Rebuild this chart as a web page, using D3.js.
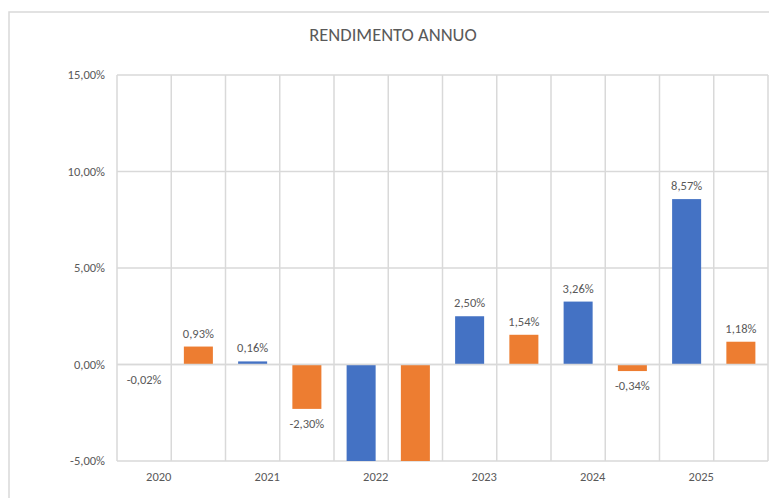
<!DOCTYPE html>
<html>
<head>
<meta charset="utf-8">
<script src="https://cdn.jsdelivr.net/npm/d3@7"></script>
<style>
  body { margin: 0; background: #fff; }
  text { font-family: Carlito, "Liberation Sans", Arial, sans-serif; fill: #595959; }
</style>
</head>
<body>
<div id="chart"></div>
<script>
// data (2022 bars run below the axis minimum, labels hidden)
var years = ["2020", "2021", "2022", "2023", "2024", "2025"];
var seriesA = [-0.02, 0.16, -9.2, 2.50, 3.26, 8.57];   // blue
var seriesB = [0.93, -2.30, -8.6, 1.54, -0.34, 1.18];  // orange
var yTicks = [-5, 0, 5, 10, 15];
var colors = ["#4472c4", "#ed7d31"];

var width = 769, height = 498;
var plot = {left: 117, right: 768, top: 75, bottom: 461};

var svg = d3.select("#chart").append("svg")
    .attr("width", width)
    .attr("height", height);

// chart area border
svg.append("rect")
    .attr("x", 9).attr("y", 12)
    .attr("width", width + 20).attr("height", height + 20)
    .attr("fill", "#fff")
    .attr("stroke", "#d9d9d9")
    .attr("stroke-width", 1.5);

// one slot per bar: blue then orange for each year
var slots = [];
years.forEach(function(yr, i) {
  slots.push({key: yr + "a", year: yr, value: seriesA[i], color: colors[0]});
  slots.push({key: yr + "b", year: yr, value: seriesB[i], color: colors[1]});
});

var x = d3.scaleBand()
    .domain(slots.map(function(d) { return d.key; }))
    .range([plot.left, plot.right])
    .paddingInner(0.465)
    .paddingOuter(0.2325);

// year labels sit a little left of the pair centre, as in the original
var xYear = d3.scaleBand()
    .domain(years)
    .range([plot.left - 12.5, plot.right - 12.5]);

var y = d3.scaleLinear()
    .domain([-5, 15])
    .range([plot.bottom, plot.top]);

var step = x.step();

// horizontal gridlines
svg.selectAll(".hgrid")
    .data(yTicks)
  .enter().append("line")
    .attr("x1", plot.left).attr("x2", plot.right)
    .attr("y1", function(d) { return y(d); })
    .attr("y2", function(d) { return y(d); })
    .attr("stroke", "#d9d9d9")
    .attr("stroke-width", 1.5);

// vertical gridlines at slot boundaries
svg.selectAll(".vgrid")
    .data(d3.range(slots.length + 1))
  .enter().append("line")
    .attr("x1", function(i) { return plot.left + i * step; })
    .attr("x2", function(i) { return plot.left + i * step; })
    .attr("y1", plot.top).attr("y2", plot.bottom)
    .attr("stroke", "#d9d9d9")
    .attr("stroke-width", 1.5);

// clip bars to the plot area
svg.append("clipPath").attr("id", "clip")
  .append("rect")
    .attr("x", plot.left).attr("y", plot.top)
    .attr("width", plot.right - plot.left)
    .attr("height", plot.bottom - plot.top);

svg.append("g")
    .attr("clip-path", "url(#clip)")
  .selectAll(".bar")
    .data(slots)
  .enter().append("rect")
    .attr("x", function(d) { return x(d.key); })
    .attr("width", x.bandwidth())
    .attr("y", function(d) { return y(Math.max(0, d.value)); })
    .attr("height", function(d) { return Math.abs(y(d.value) - y(0)); })
    .attr("fill", function(d) { return d.color; });

// the zero line drawn over the bars
svg.append("line")
    .attr("x1", plot.left).attr("x2", plot.right)
    .attr("y1", y(0)).attr("y2", y(0))
    .attr("stroke", "#d9d9d9")
    .attr("stroke-width", 1.5);

var fmt = function(v) { return d3.format(".2f")(v).replace(".", ",").replace("−", "-") + "%"; };

// data labels (hidden when the bar leaves the plot area)
svg.selectAll(".label")
    .data(slots.filter(function(d) { return d.value >= -5 && d.value <= 15; }))
  .enter().append("text")
    .attr("x", function(d) { return x(d.key) + x.bandwidth() / 2; })
    .attr("y", function(d) { return d.value >= 0 ? y(d.value) - 9 : y(d.value) + 19; })
    .attr("text-anchor", "middle")
    .attr("font-size", "12.5px")
    .text(function(d) { return fmt(d.value); });

// y axis labels
svg.selectAll(".ytick")
    .data(yTicks)
  .enter().append("text")
    .attr("x", 105)
    .attr("y", function(d) { return y(d); })
    .attr("dy", "0.35em")
    .attr("text-anchor", "end")
    .attr("font-size", "12.5px")
    .text(function(d) { return fmt(d); });

// x axis labels
svg.selectAll(".xtick")
    .data(years)
  .enter().append("text")
    .attr("x", function(d) { return xYear(d) + xYear.bandwidth() / 2; })
    .attr("y", 481)
    .attr("text-anchor", "middle")
    .attr("font-size", "12.5px")
    .text(function(d) { return d; });

// title
svg.append("text")
    .attr("x", 393)
    .attr("y", 41)
    .attr("text-anchor", "middle")
    .attr("font-size", "18.5px")
    .text("RENDIMENTO ANNUO");
</script>
</body>
</html>
